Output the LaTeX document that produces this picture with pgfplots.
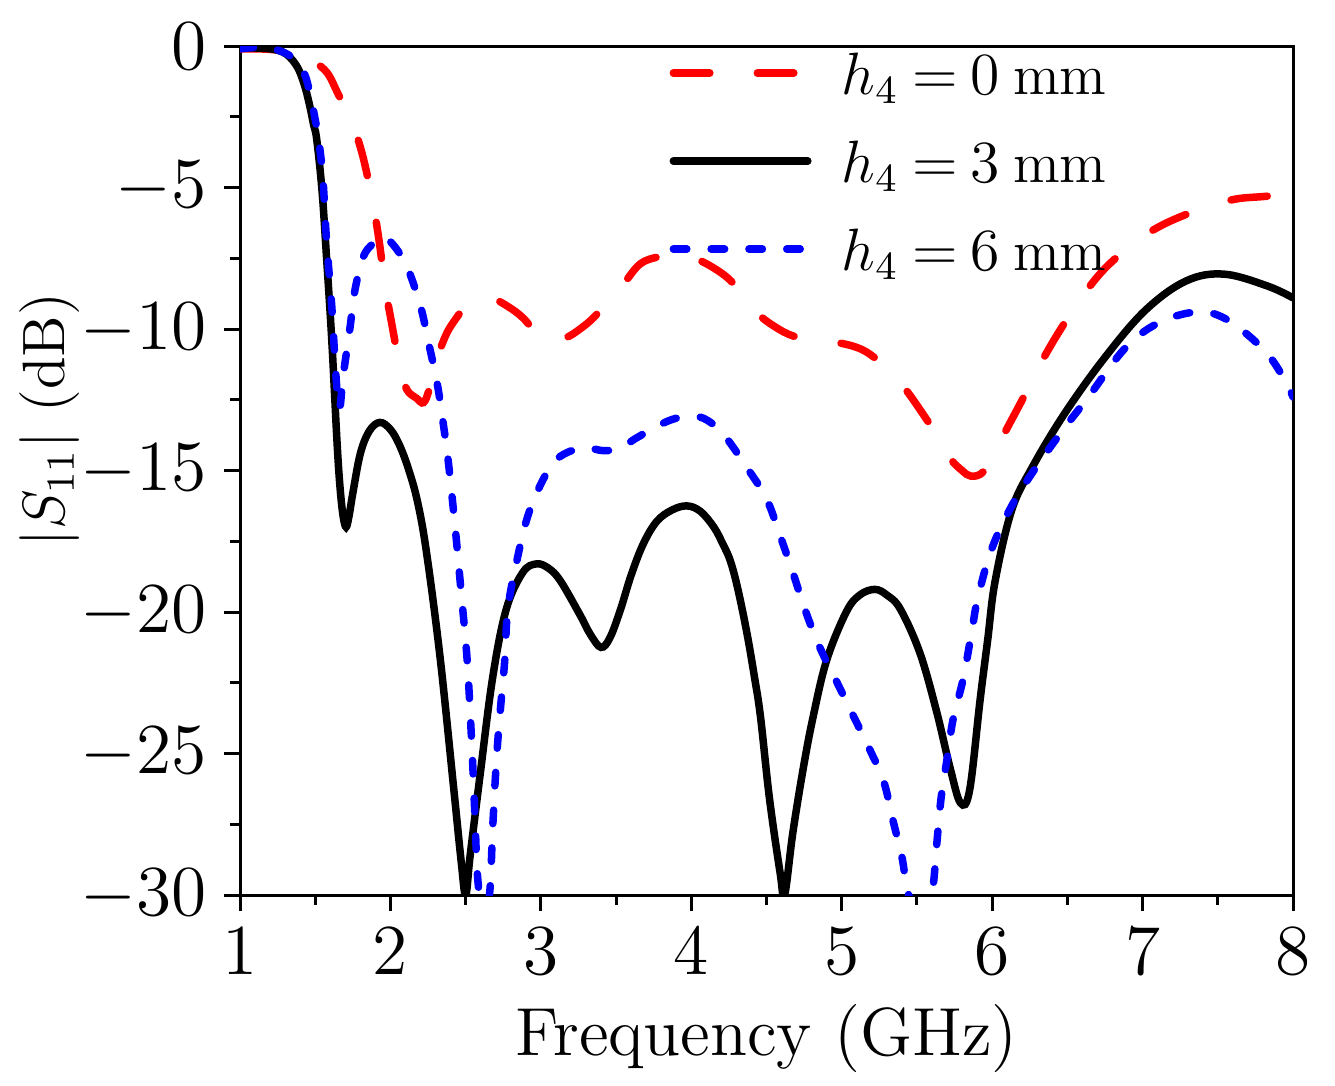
\documentclass[border=0pt]{standalone}
\usepackage{pgfplots}
\pgfplotsset{compat=1.18}
\definecolor{myred}{RGB}{255,0,0}
\definecolor{myblue}{RGB}{0,0,255}
\newcommand{\hfour}[1]{$h_4\mkern4mu{=}\mkern4mu#1$\hspace{0.222em}mm}
\begin{document}
\begin{tikzpicture}[font=\fontsize{14bp}{17bp}\selectfont]
\begin{axis}[
  scale only axis, width=210.6bp, height=169.8bp,
  xmin=1, xmax=8, ymin=-30, ymax=0,
  xtick={1,2,3,4,5,6,7,8},
  ytick={-30,-25,-20,-15,-10,-5,0},
  minor x tick num=1, minor y tick num=1,
  tick align=outside, tick pos=left,
  major tick length=3.2bp, minor tick length=2bp,
  axis line style={line width=0.6bp},
  tick style={black, line width=0.6bp},
  xticklabel style={font=\fontsize{14.4pt}{17bp}\selectfont},
  yticklabel style={font=\fontsize{14.4pt}{17bp}\selectfont},
  xlabel={Frequency (GHz)},
  ylabel={$|S_{11}|$ (dB)},
  xlabel style={at={(axis description cs:0.5,0)}, anchor=base, yshift=-32bp, font=\fontsize{13.6bp}{17bp}\selectfont},
  ylabel style={at={(axis description cs:-0.1804,0.56)}, anchor=center, font=\fontsize{12pt}{15bp}\selectfont},
  legend style={draw=none, fill=none, inner sep=0pt,
    at={(axis description cs:0.407,0.9976)}, anchor=north west,
    row sep=5.6bp, column sep=6bp,
    cells={anchor=west},
    nodes={inner sep=0pt, text height=9bp, text depth=3bp, anchor=base, font=\fontsize{11.5pt}{14bp}\selectfont}},
  legend image code/.code={\draw[#1] (0bp,4.2bp) -- (26.9bp,4.2bp);},
]
\addplot[myred, line width=1.5bp, line cap=round, dash pattern=on 7.3bp off 9.5bp, smooth, tension=0.6] coordinates {
(1.00,-0.10) (1.10,-0.10) (1.20,-0.12) (1.30,-0.18) (1.40,-0.32) (1.49,-0.55)
(1.58,-0.95) (1.65,-1.67) (1.70,-2.2) (1.75,-2.75) (1.82,-3.97) (1.885,-5.6)
(1.925,-6.9) (1.965,-8.5) (2.01,-9.85) (2.065,-11.4) (2.11,-12.15) (2.175,-12.45)
(2.22,-12.6) (2.26,-12.1) (2.32,-10.9) (2.37,-10.2) (2.42,-9.75) (2.50,-9.2)
(2.58,-8.95) (2.67,-8.9) (2.78,-9.2) (2.88,-9.6) (2.98,-10.2) (3.06,-10.45)
(3.17,-10.3) (3.26,-10.0) (3.35,-9.6) (3.45,-9.0) (3.55,-8.4) (3.66,-7.7)
(3.78,-7.45) (3.90,-7.35) (4.05,-7.56) (4.22,-8.1) (4.33,-8.7) (4.43,-9.4)
(4.55,-9.9) (4.68,-10.25) (4.85,-10.4) (4.99,-10.5) (5.10,-10.65) (5.19,-10.9)
(5.30,-11.4) (5.42,-12.1) (5.565,-13.2) (5.65,-13.9) (5.725,-14.6) (5.80,-15.0)
(5.86,-15.2) (5.94,-15.05) (6.02,-14.3) (6.10,-13.5) (6.21,-12.4) (6.345,-11.0)
(6.48,-9.8) (6.64,-8.55) (6.80,-7.6) (7.04,-6.6) (7.29,-5.95) (7.58,-5.45)
(7.80,-5.32) (8.00,-5.25)
};
\addlegendentry{\hfour{0}}
\addplot[black, line width=1.5bp, line cap=round, smooth, tension=0.6] coordinates {
(1.00,-0.07) (1.10,-0.07) (1.20,-0.10) (1.28,-0.20) (1.33,-0.39) (1.37,-0.65)
(1.40,-0.95) (1.435,-1.5) (1.465,-2.15) (1.49,-2.8) (1.51,-3.3) (1.545,-5.1)
(1.575,-7.45) (1.61,-10.4) (1.645,-14.0) (1.665,-15.6) (1.685,-16.6) (1.705,-17.0)
(1.725,-16.6) (1.75,-15.8) (1.80,-14.4) (1.86,-13.6) (1.93,-13.3) (2.00,-13.55)
(2.06,-14.1) (2.12,-14.95) (2.18,-16.1) (2.24,-17.9) (2.33,-21.6) (2.42,-26.2)
(2.47,-28.8) (2.50,-30.0) (2.53,-28.6) (2.595,-25.8) (2.68,-22.3) (2.77,-19.9)
(2.88,-18.6) (2.97,-18.3) (3.05,-18.45) (3.13,-18.9) (3.26,-20.1) (3.33,-20.8)
(3.40,-21.25) (3.46,-20.9) (3.53,-19.9) (3.60,-18.7) (3.68,-17.6) (3.77,-16.8)
(3.87,-16.4) (3.97,-16.25) (4.06,-16.44) (4.15,-17.0) (4.21,-17.6) (4.26,-18.2)
(4.31,-19.2) (4.37,-20.75) (4.42,-22.3) (4.46,-23.7)
(4.52,-26.6) (4.59,-29.2) (4.62,-30.0) (4.675,-27.8) (4.745,-25.5)
(4.81,-23.7) (4.90,-21.7) (5.03,-20.0) (5.12,-19.4) (5.22,-19.2) (5.30,-19.4)
(5.39,-19.9) (5.52,-21.45) (5.63,-23.5) (5.72,-25.5) (5.79,-26.75) (5.85,-26.3)
(5.92,-23.1) (5.97,-21.0) (6.02,-18.9) (6.13,-16.4) (6.265,-14.9) (6.48,-13.0)
(6.75,-11.0) (7.02,-9.33) (7.29,-8.3) (7.54,-8.06) (7.83,-8.48) (8.00,-8.9)
};
\addlegendentry{\hfour{3}}
\addplot[myblue, line width=1.5bp, line cap=round, dash pattern=on 2.7bp off 4.86bp, smooth, tension=0.6] coordinates {
(1.00,-0.10) (1.10,-0.05) (1.20,-0.08) (1.30,-0.25) (1.38,-0.55) (1.43,-1.0)
(1.465,-1.67) (1.50,-2.6) (1.52,-3.2) (1.55,-4.6) (1.575,-6.85) (1.61,-9.2)
(1.63,-11.0) (1.65,-12.5) (1.665,-12.75) (1.685,-11.7) (1.73,-10.0) (1.765,-8.6)
(1.82,-7.45) (1.88,-7.0) (1.94,-6.75) (2.01,-6.97) (2.11,-7.8) (2.20,-9.2)
(2.25,-10.4) (2.31,-11.9) (2.35,-13.3) (2.385,-14.7) (2.43,-17.0) (2.47,-19.3)
(2.51,-21.7) (2.54,-24.6) (2.56,-27.0) (2.58,-29.4) (2.62,-31.0) (2.66,-29.9)
(2.68,-27.6) (2.705,-25.2) (2.73,-23.5) (2.76,-21.7) (2.78,-19.9) (2.84,-18.2)
(2.905,-16.75) (2.98,-15.7) (3.08,-14.75) (3.18,-14.35) (3.30,-14.2) (3.42,-14.3)
(3.53,-14.2) (3.62,-13.9) (3.75,-13.5) (3.87,-13.2) (3.97,-13.1) (4.08,-13.15)
(4.21,-13.7) (4.37,-14.9) (4.50,-16.0) (4.59,-17.3) (4.675,-18.6) (4.755,-19.9)
(4.85,-21.2) (4.97,-22.5) (5.08,-23.7) (5.19,-24.9) (5.28,-26.0) (5.34,-27.35)
(5.40,-28.65) (5.44,-29.9) (5.52,-31.0) (5.60,-29.9) (5.63,-28.3) (5.66,-26.6)
(5.70,-25.2) (5.74,-23.8) (5.81,-22.3) (5.87,-20.5) (5.905,-19.5) (5.995,-17.8)
(6.13,-16.25) (6.29,-14.9) (6.48,-13.5) (6.64,-12.4) (6.88,-10.7) (7.10,-9.8)
(7.355,-9.4) (7.555,-9.65) (7.80,-10.7) (7.935,-11.7) (8.00,-12.4)
};
\addlegendentry{\hfour{6}}
\end{axis}
\pgfresetboundingbox
\path[use as bounding box] ([xshift=-48bp,yshift=-38bp]current axis.south west) rectangle ([xshift=8.4bp,yshift=9.2bp]current axis.north east);
\end{tikzpicture}
\end{document}
